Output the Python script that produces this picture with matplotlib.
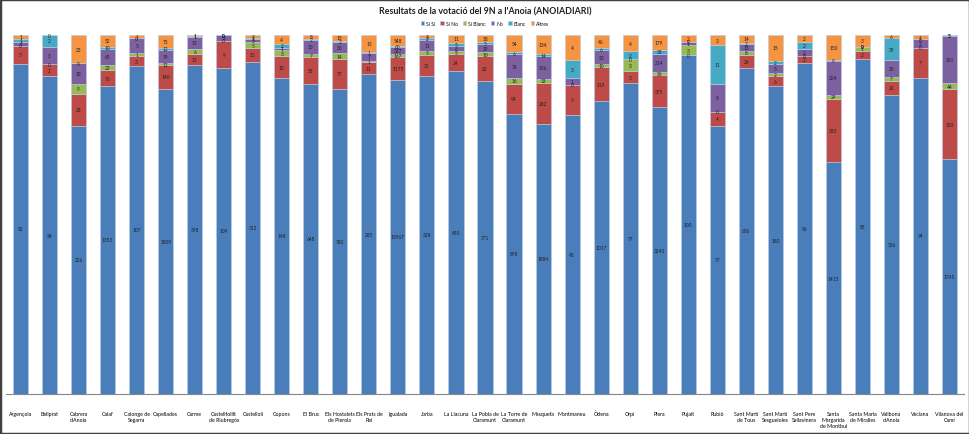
import numpy as np
import matplotlib.pyplot as plt
from matplotlib.patches import Rectangle

plt.rcParams['font.family'] = ['Lato', 'DejaVu Sans']

# Dades: vots per municipi
municipis = [
    "Argençola", "Bellprat", "Cabrera\nd'Anoia", "Calaf", "Calonge de\nSegarra",
    "Capellades", "Carme", "Castellfollit\nde Riubregós", "Castellolí", "Copons",
    "El Bruc", "Els Hostalets\nde Pierola", "Els Prats de\nRei", "Igualada", "Jorba",
    "La Llacuna", "La Pobla de\nClaramunt", "La Torre de\nClaramunt", "Masquefa",
    "Montmaneu", "Òdena", "Orpí", "Piera", "Pujalt", "Rubió", "Sant Martí\nde Tous",
    "Sant Martí\nSesgueioles", "Sant Pere\nSallavinera", "Santa\nMargarida\nde Montbui",
    "Santa Maria\nde Miralles", "Vallbona\nd'Anoia", "Veciana", "Vilanova del\nCamí",
]
si_si = [92, 54, 236, 1353, 107, 1809, 398, 109, 312, 148, 648, 780, 285, 15967, 328,
         455, 771, 878, 1884, 45, 1017, 77, 3343, 100, 77, 606, 180, 96, 1415, 85, 536, 74, 1745]
si_no = [5, 2, 28, 70, 3, 140, 13, 9, 13, 10, 55, 77, 11, 1175, 21,
         24, 62, 94, 282, 5, 119, 3, 375, 0, 4, 24, 6, 2, 383, 2, 26, 7, 520]
si_blanc = [0, 0, 9, 23, 1, 12, 6, 0, 5, 3, 7, 14, 1, 167, 5,
            5, 10, 16, 33, 0, 10, 3, 36, 3, 0, 8, 2, 0, 29, 1, 7, 0, 44]
no = [1, 3, 18, 69, 5, 79, 15, 2, 3, 1, 30, 30, 7, 337, 11,
      6, 19, 76, 156, 1, 50, 0, 214, 1, 8, 13, 5, 2, 204, 0, 30, 2, 351]
blanc = [1, 2, 0, 10, 0, 12, 1, 0, 1, 2, 2, 2, 1, 60, 2,
         5, 5, 6, 14, 3, 6, 2, 38, 0, 11, 2, 2, 2, 9, 0, 39, 0, 5]
altres = [1, 0, 25, 52, 1, 75, 1, 0, 3, 4, 8, 15, 15, 548, 3,
          11, 18, 54, 134, 4, 46, 4, 179, 2, 3, 14, 15, 2, 150, 3, 6, 1, 3]

series = ["Sí Sí", "Sí No", "Sí Blanc", "No", "Blanc", "Altres"]
colors = ["#4A7EBB", "#BE4B48", "#98B954", "#7D60A0", "#46AAC5", "#F59443"]

values = np.array([si_si, si_no, si_blanc, no, blanc, altres], dtype=float)
totals = values.sum(axis=0)
fractions = values / totals

fig = plt.figure(figsize=(9.7, 4.35), dpi=100)
ax = fig.add_axes([6 / 970, 1 - 395 / 435, 958 / 970, 359 / 435])

x = np.arange(len(municipis))
bottom = np.zeros(len(municipis))
for i, name in enumerate(series):
    bars = ax.bar(x, fractions[i], bottom=bottom, width=0.52, color=colors[i],
                  edgecolor="#B9CDE5", linewidth=0.4, label=name)
    for j, bar in enumerate(bars):
        ax.text(bar.get_x() + bar.get_width() / 2, bottom[j] + fractions[i][j] / 2,
                f"{int(values[i][j])}", ha="center", va="center",
                fontsize=3.4, color="#1F1F1F")
    bottom += fractions[i]

ax.set_xlim(-0.5, len(municipis) - 0.5)
ax.set_ylim(0, 1)
ax.set_xticks(x)
ax.set_xticklabels(municipis, fontsize=3.8, linespacing=1.35)
ax.tick_params(axis="x", length=0, pad=12)
ax.set_yticks([])
for side in ["top", "left", "right"]:
    ax.spines[side].set_visible(False)
ax.spines["bottom"].set_color("#868686")
ax.spines["bottom"].set_linewidth(0.8)

fig.text(0.5, 1 - 12 / 435, "Resultats de la votació del 9N a l'Anoia (ANOIADIARI)",
         ha="center", va="center", fontsize=6.4, fontweight="bold", color="#1F1F1F")
fig.legend(loc="center", bbox_to_anchor=(0.5, 1 - 24 / 435), ncol=6, fontsize=3.6,
           frameon=False, handlelength=0.7, handleheight=0.7, handletextpad=0.4,
           columnspacing=1.0)

# marc exterior
fig.patches.append(Rectangle((0, 0), 1, 1, transform=fig.transFigure, fill=False,
                             edgecolor="#404040", linewidth=2.5))

fig.savefig("out.png", dpi=100)
